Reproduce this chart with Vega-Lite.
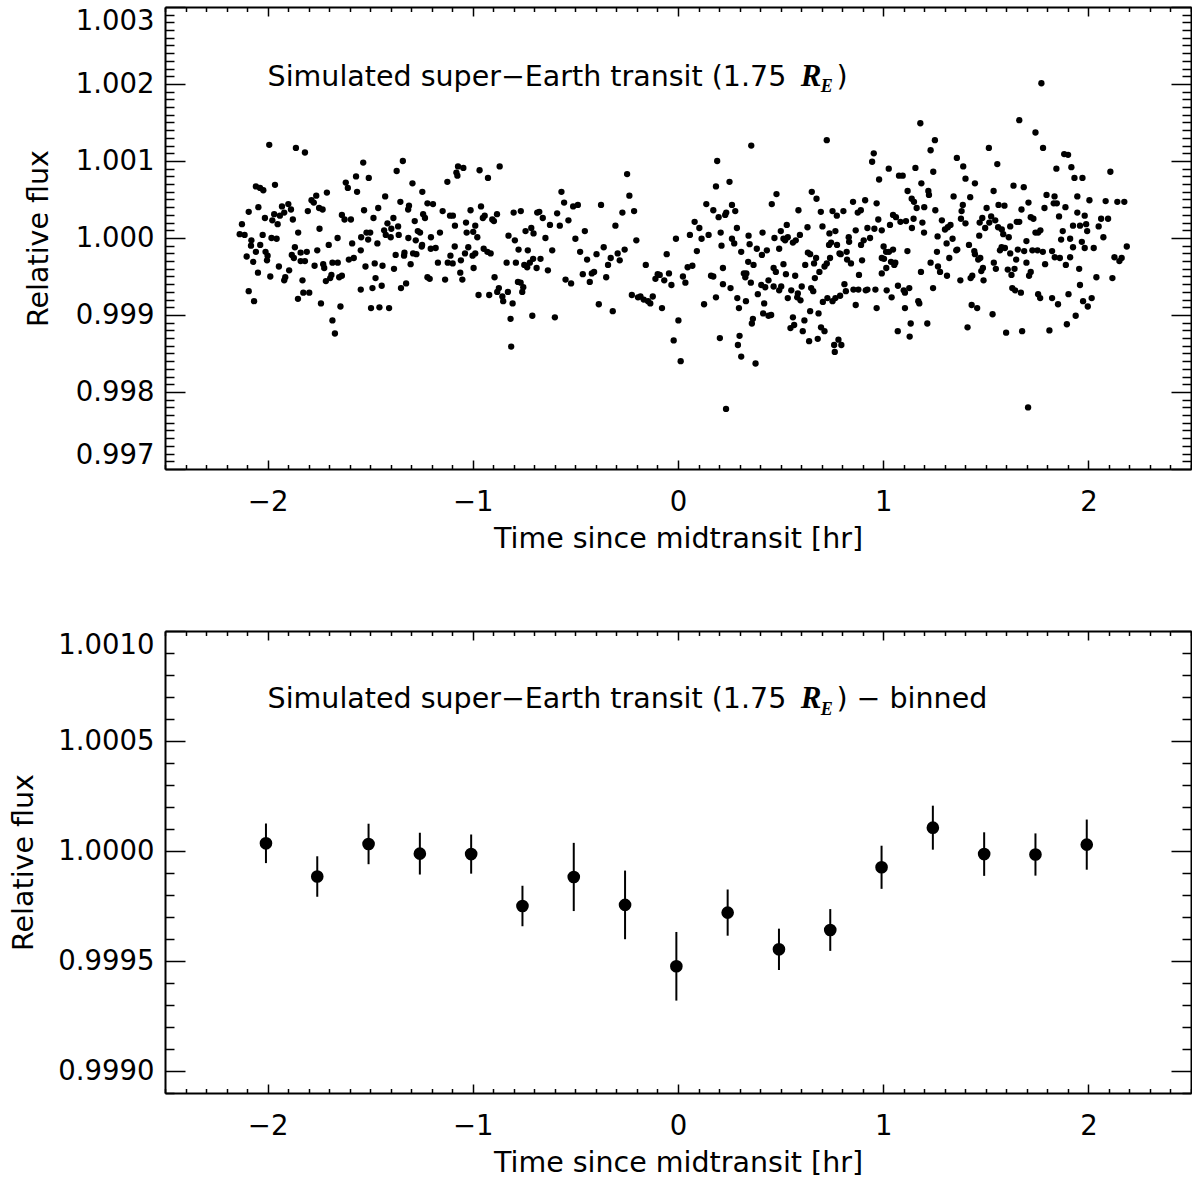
{
  "$schema": "https://vega.github.io/schema/vega-lite/v6.json",
  "padding": {"left": 9, "top": 0, "right": 0, "bottom": 0},
  "background": "white",
  "bounds": "flush",
  "spacing": 162,
  "config": {
    "view": {"stroke": null},
    "font": "DejaVu Sans",
    "axis": {
      "grid": false, "domainColor": "black", "domainWidth": 2, "tickColor": "black", "tickWidth": 1.5,
      "labelFont": "DejaVu Sans", "labelFontSize": 27.5, "labelColor": "black", "labelOverlap": false,
      "titleFont": "DejaVu Sans", "titleFontSize": 28.5, "titleFontWeight": "normal", "titleColor": "black"
    }
  },
  "datasets": {
    "raw": [
{"t":-1.992,"f":1.00121},{"t":-1.862,"f":1.00117},{"t":-1.818,"f":1.00111},{"t":-2.057,"f":1.00067},{"t":-2.037,"f":1.00065},{"t":-2.021,"f":1.00062},{"t":-1.964,"f":1.00069},{"t":-2.092,"f":1.00034},{"t":-2.045,"f":1.0004},{"t":-2.013,"f":1.00026},{"t":-2.125,"f":1.00018},{"t":-2.136,"f":1.00005},{"t":-2.112,"f":1.00004},{"t":-2.079,"f":0.99997},{"t":-2.081,"f":0.9999},{"t":-2.036,"f":0.99991},{"t":-2.057,"f":0.99982},{"t":-2.102,"f":0.99976},{"t":-2.07,"f":0.99969},{"t":-2.047,"f":0.99955},{"t":-2.01,"f":0.99982},{"t":-2.0,"f":0.99977},{"t":-2.003,"f":0.99971},{"t":-2.092,"f":0.99931},{"t":-2.066,"f":0.99918},{"t":-2.024,"f":1.00004},{"t":-1.981,"f":1.0},{"t":-1.956,"f":0.99999},{"t":-1.987,"f":0.9995},{"t":-1.945,"f":0.99963},{"t":-1.914,"f":0.99949},{"t":-1.895,"f":0.99958},{"t":-1.919,"f":0.99945},{"t":-1.977,"f":1.00023},{"t":-1.968,"f":1.00031},{"t":-1.951,"f":1.00018},{"t":-1.94,"f":1.00029},{"t":-1.93,"f":1.00041},{"t":-1.919,"f":1.00033},{"t":-1.899,"f":1.00044},{"t":-1.886,"f":1.00037},{"t":-1.877,"f":1.00024},{"t":-1.851,"f":1.00007},{"t":-1.867,"f":0.99988},{"t":-1.882,"f":0.99978},{"t":-1.872,"f":0.99974},{"t":-1.839,"f":0.99981},{"t":-1.809,"f":0.99982},{"t":-1.839,"f":0.9997},{"t":-1.818,"f":0.9997},{"t":-1.83,"f":0.99945},{"t":-1.826,"f":0.99929},{"t":-1.797,"f":0.99929},{"t":-1.852,"f":0.99921},{"t":-1.74,"f":0.99915},{"t":-1.804,"f":1.00035},{"t":-1.786,"f":1.00049},{"t":-1.775,"f":1.00046},{"t":-1.763,"f":1.00055},{"t":-1.749,"f":1.00039},{"t":-1.732,"f":1.00037},{"t":-1.711,"f":1.00059},{"t":-1.747,"f":1.00012},{"t":-1.702,"f":0.99991},{"t":-1.758,"f":0.99984},{"t":-1.771,"f":0.99964},{"t":-1.729,"f":0.99966},{"t":-1.724,"f":0.99961},{"t":-1.716,"f":0.99944},{"t":-1.695,"f":0.99948},{"t":-1.689,"f":0.99952},{"t":-1.684,"f":0.99968},{"t":-1.658,"f":0.99968},{"t":-1.651,"f":0.99949},{"t":-1.638,"f":0.99951},{"t":-1.684,"f":0.99893},{"t":-1.672,"f":0.99876},{"t":-1.645,"f":0.99911},{"t":-1.659,"f":1.0},{"t":-1.638,"f":1.0003},{"t":-1.625,"f":1.00024},{"t":-1.594,"f":1.00024},{"t":-1.619,"f":1.00072},{"t":-1.609,"f":1.00065},{"t":-1.569,"f":1.0008},{"t":-1.564,"f":1.0006},{"t":-1.588,"f":0.99993},{"t":-1.604,"f":0.99972},{"t":-1.58,"f":0.99974},
{"t":-1.534,"f":1.00098},{"t":-1.341,"f":1.001},{"t":-1.371,"f":1.00087},{"t":-1.507,"f":1.00078},{"t":-1.294,"f":1.00071},{"t":-1.246,"f":1.0006},{"t":-1.124,"f":1.00073},{"t":-1.427,"f":1.00054},{"t":-1.353,"f":1.00047},{"t":-1.53,"f":1.00036},{"t":-1.461,"f":1.00039},{"t":-1.484,"f":1.00026},{"t":-1.311,"f":1.00042},{"t":-1.315,"f":1.00037},{"t":-1.221,"f":1.00045},{"t":-1.194,"f":1.00044},{"t":-1.242,"f":1.00031},{"t":-1.233,"f":1.00026},{"t":-1.283,"f":1.00022},{"t":-1.072,"f":1.00093},{"t":-1.046,"f":1.00091},{"t":-1.08,"f":1.00085},{"t":-1.075,"f":1.00081},{"t":-0.967,"f":1.00088},{"t":-0.926,"f":1.00078},{"t":-0.869,"f":1.00093},{"t":-1.147,"f":1.00035},{"t":-1.111,"f":1.00029},{"t":-1.097,"f":1.00029},{"t":-1.011,"f":1.00036},{"t":-0.96,"f":1.00041},{"t":-0.942,"f":1.00029},{"t":-0.951,"f":1.00026},{"t":-0.882,"f":1.00031},{"t":-0.905,"f":1.00024},{"t":-0.897,"f":1.00022},{"t":-1.416,"f":1.00019},{"t":-1.432,"f":1.0001},{"t":-1.424,"f":1.00004},{"t":-1.397,"f":1.00012},{"t":-1.387,"f":1.00026},{"t":-1.364,"f":1.00015},{"t":-1.4,"f":1.00001},{"t":-1.361,"f":1.00004},{"t":-1.314,"f":1.0},{"t":-1.268,"f":1.00009},{"t":-1.257,"f":1.00007},{"t":-1.278,"f":0.99997},{"t":-1.247,"f":0.99991},{"t":-1.204,"f":1.00001},{"t":-1.16,"f":1.00007},{"t":-1.087,"f":1.00016},{"t":-1.033,"f":1.0002},{"t":-0.988,"f":1.00016},{"t":-0.998,"f":1.00008},{"t":-1.03,"f":1.00007},{"t":-0.978,"f":1.00001},{"t":-1.544,"f":1.00001},{"t":-1.518,"f":1.00007},{"t":-1.5,"f":1.00007},{"t":-1.51,"f":0.99998},{"t":-1.465,"f":0.99993},{"t":-1.546,"f":0.99984},{"t":-1.376,"f":0.99978},{"t":-1.333,"f":0.99981},{"t":-1.335,"f":0.99977},{"t":-1.291,"f":0.9998},{"t":-1.275,"f":0.99979},{"t":-1.303,"f":0.99966},{"t":-1.249,"f":0.99989},{"t":-1.205,"f":0.99986},{"t":-1.181,"f":0.99987},{"t":-1.088,"f":0.99989},{"t":-1.109,"f":0.99977},{"t":-1.122,"f":0.99968},{"t":-1.098,"f":0.99967},{"t":-1.058,"f":0.99971},{"t":-1.038,"f":0.9998},{"t":-1.022,"f":0.99988},{"t":-1.001,"f":0.99977},{"t":-0.988,"f":0.9998},{"t":-0.947,"f":0.99986},{"t":-0.929,"f":0.99982},{"t":-0.913,"f":0.9998},{"t":-1.478,"f":0.99967},{"t":-1.523,"f":0.99963},{"t":-1.44,"f":0.99964},{"t":-1.384,"f":0.9996},{"t":-1.474,"f":0.99948},{"t":-1.489,"f":0.99935},{"t":-1.444,"f":0.99938},{"t":-1.546,"f":0.99933},{"t":-1.35,"f":0.99935},{"t":-1.325,"f":0.99941},{"t":-1.221,"f":0.99949},{"t":-1.21,"f":0.99947},{"t":-1.17,"f":0.99968},{"t":-1.135,"f":0.99946},{"t":-1.061,"f":0.99955},{"t":-1.051,"f":0.99946},{"t":-0.996,"f":0.99961},{"t":-1.496,"f":0.99909},{"t":-1.455,"f":0.9991},{"t":-1.408,"f":0.99909},{"t":-0.972,"f":0.99926},{"t":-0.92,"f":0.99926},{"t":-0.894,"f":0.99949},{"t":-0.881,"f":0.9993},{"t":-0.873,"f":0.99935},{"t":-0.856,"f":0.99924},{"t":-0.852,"f":0.99918},{"t":-0.829,"f":0.9993},{"t":-0.806,"f":0.99915},{"t":-0.816,"f":0.99895},{"t":-0.813,"f":0.99859},{"t":-0.71,"f":0.99899},{"t":-0.6,"f":0.99897},{"t":-0.801,"f":1.00033},{"t":-0.766,"f":1.00035},{"t":-0.826,"f":1.00003},{"t":-0.795,"f":0.99997},{"t":-0.777,"f":0.99985},{"t":-0.835,"f":0.99968},{"t":-0.79,"f":0.99968},{"t":-0.743,"f":1.00009},{"t":-0.715,"f":1.00013},{"t":-0.704,"f":1.00006},{"t":-0.732,"f":0.99984},{"t":-0.749,"f":0.99965},{"t":-0.735,"f":0.99962},{"t":-0.722,"f":0.99968},{"t":-0.706,"f":0.99973},{"t":-0.689,"f":0.99961},{"t":-0.67,"f":0.99973},{"t":-0.646,"f":1.0},{"t":-0.634,"f":0.99958},{"t":-0.613,"f":0.99984},{"t":-0.686,"f":1.00033},{"t":-0.676,"f":1.00034},{"t":-0.659,"f":1.00026},{"t":-0.624,"f":1.00017},{"t":-0.589,"f":1.00032},{"t":-0.78,"f":0.99943},{"t":-0.767,"f":0.99942},{"t":-0.759,"f":0.9993},{"t":-0.754,"f":0.99936},
{"t":-0.568,"f":1.0006},{"t":-0.555,"f":1.00046},{"t":-0.576,"f":1.00016},{"t":-0.534,"f":1.00023},{"t":-0.511,"f":1.00041},{"t":-0.488,"f":1.00043},{"t":-0.5,"f":0.99999},{"t":-0.477,"f":0.99982},{"t":-0.454,"f":1.00009},{"t":-0.443,"f":0.99972},{"t":-0.464,"f":0.99953},{"t":-0.43,"f":0.99943},{"t":-0.42,"f":0.99954},{"t":-0.409,"f":0.99956},{"t":-0.397,"f":0.99979},{"t":-0.386,"f":0.99914},{"t":-0.375,"f":1.00043},{"t":-0.362,"f":0.99988},{"t":-0.35,"f":0.99949},{"t":-0.341,"f":0.99965},{"t":-0.328,"f":0.99974},{"t":-0.318,"f":0.99905},{"t":-0.305,"f":1.00016},{"t":-0.294,"f":0.9998},{"t":-0.284,"f":0.99971},{"t":-0.271,"f":1.00033},{"t":-0.26,"f":0.99985},{"t":-0.248,"f":1.00083},{"t":-0.237,"f":1.00055},{"t":-0.214,"f":1.00035},{"t":-0.203,"f":0.99997},{"t":-0.225,"f":0.99926},{"t":-0.195,"f":0.99923},{"t":-0.183,"f":0.99924},{"t":-0.167,"f":0.9992},{"t":-0.146,"f":0.99918},{"t":-0.135,"f":0.99915},{"t":-0.123,"f":0.99924},{"t":-0.157,"f":0.99965},{"t":-0.11,"f":0.99947},{"t":-0.099,"f":0.99953},{"t":-0.089,"f":0.99952},{"t":-0.078,"f":0.99909},{"t":-0.067,"f":0.99945},{"t":-0.055,"f":0.99979},{"t":-0.044,"f":0.99954},{"t":-0.032,"f":0.99939},{"t":-0.01,"f":0.99999},{"t":0.002,"f":0.99893},{"t":-0.021,"f":0.99867},{"t":0.013,"f":0.9984},{"t":0.024,"f":0.9995},{"t":0.036,"f":0.99942},{"t":0.047,"f":0.99962},{"t":0.058,"f":1.00004},{"t":0.07,"f":0.99964},{"t":0.081,"f":1.00021},{"t":0.092,"f":0.99983},{"t":0.104,"f":1.00013},{"t":0.115,"f":0.99999},{"t":0.127,"f":0.99914},{"t":0.138,"f":1.00044},{"t":0.149,"f":1.00004},{"t":0.161,"f":0.99951},{"t":0.172,"f":0.9995},{"t":0.172,"f":1.00036},{"t":0.185,"f":0.99923},{"t":0.185,"f":1.00067},{"t":0.191,"f":1.001},{"t":0.198,"f":1.00027},{"t":0.208,"f":1.00007},{"t":0.212,"f":0.9999},{"t":0.219,"f":0.99961},{"t":0.219,"f":0.9994},{"t":0.23,"f":1.0003},{"t":0.235,"f":1.00033},{"t":0.251,"f":1.00073},{"t":0.256,"f":0.99935},{"t":0.263,"f":1.00043},{"t":0.263,"f":0.99999},{"t":0.274,"f":0.99993},{"t":0.279,"f":1.00035},{"t":0.287,"f":1.00013},{"t":0.289,"f":0.99922},{"t":0.297,"f":0.99909},{"t":0.308,"f":0.99982},{"t":0.3,"f":0.99873},{"t":0.292,"f":0.99861},{"t":0.308,"f":0.99846},{"t":0.204,"f":0.9987},{"t":0.234,"f":0.99778},{"t":0.357,"f":1.0012},{"t":0.344,"f":1.00003},{"t":0.349,"f":0.99992},{"t":0.342,"f":0.99969},{"t":0.331,"f":0.99918},{"t":0.321,"f":0.99954},{"t":0.328,"f":0.99949},{"t":0.333,"f":0.99954},{"t":0.355,"f":0.99942},{"t":0.368,"f":0.99965},{"t":0.365,"f":0.99895},{"t":0.36,"f":0.99889},{"t":0.378,"f":0.99837},{"t":0.384,"f":0.99986},{"t":0.389,"f":0.99927},{"t":-0.548,"f":0.99946},{"t":-0.521,"f":0.99941},
{"t":0.725,"f":1.00127},{"t":1.181,"f":1.00149},{"t":1.252,"f":1.00127},{"t":1.231,"f":1.00114},{"t":0.954,"f":1.0011},{"t":0.946,"f":1.00099},{"t":1.027,"f":1.0009},{"t":0.98,"f":1.00076},{"t":1.077,"f":1.00081},{"t":1.095,"f":1.00081},{"t":1.157,"f":1.00091},{"t":1.244,"f":1.00086},{"t":1.186,"f":1.00071},{"t":1.359,"f":1.00104},{"t":0.48,"f":1.00057},{"t":0.457,"f":1.00044},{"t":0.652,"f":1.0006},{"t":0.675,"f":1.00051},{"t":0.587,"f":1.00036},{"t":0.696,"f":1.00034},{"t":0.753,"f":1.00035},{"t":0.774,"f":1.00029},{"t":0.806,"f":1.00035},{"t":0.853,"f":1.00047},{"t":0.912,"f":1.00049},{"t":0.891,"f":1.00036},{"t":0.876,"f":1.00033},{"t":0.968,"f":1.00045},{"t":1.119,"f":1.00061},{"t":1.139,"f":1.00051},{"t":1.15,"f":1.00047},{"t":1.163,"f":1.00039},{"t":1.22,"f":1.00061},{"t":1.223,"f":1.00056},{"t":1.2,"f":1.0004},{"t":1.254,"f":1.00036},{"t":1.343,"f":1.00054},{"t":0.412,"f":1.00007},{"t":0.53,"f":1.00017},{"t":0.501,"f":1.00009},{"t":0.47,"f":1.0},{"t":0.493,"f":0.99986},{"t":0.514,"f":0.99999},{"t":0.522,"f":0.99997},{"t":0.535,"f":1.00001},{"t":0.56,"f":0.99994},{"t":0.574,"f":0.99997},{"t":0.594,"f":1.00004},{"t":0.631,"f":1.00014},{"t":0.704,"f":1.00015},{"t":0.738,"f":1.00006},{"t":0.767,"f":1.00009},{"t":0.736,"f":0.99991},{"t":0.775,"f":0.99991},{"t":0.746,"f":0.99994},{"t":0.832,"f":1.00001},{"t":0.834,"f":0.99995},{"t":0.866,"f":1.0001},{"t":0.892,"f":0.99991},{"t":0.905,"f":0.99997},{"t":0.923,"f":1.00013},{"t":0.957,"f":1.00012},{"t":0.936,"f":1.0},{"t":0.993,"f":1.0001},{"t":0.976,"f":1.00024},{"t":1.033,"f":1.00017},{"t":1.048,"f":1.0003},{"t":1.062,"f":1.00027},{"t":1.084,"f":1.00021},{"t":1.111,"f":1.00022},{"t":1.148,"f":1.00025},{"t":1.14,"f":1.00013},{"t":1.191,"f":1.0002},{"t":1.199,"f":1.00007},{"t":1.265,"f":1.00002},{"t":1.286,"f":1.00023},{"t":1.301,"f":1.00011},{"t":1.315,"f":1.00014},{"t":1.328,"f":1.00017},{"t":1.338,"f":0.99999},{"t":1.361,"f":0.99985},{"t":0.409,"f":0.99978},{"t":0.433,"f":0.99984},{"t":0.466,"f":0.99961},{"t":0.477,"f":0.99956},{"t":0.514,"f":0.99966},{"t":0.526,"f":0.99953},{"t":0.571,"f":0.99951},{"t":0.62,"f":0.99965},{"t":0.633,"f":0.99981},{"t":0.644,"f":0.99979},{"t":0.663,"f":0.99967},{"t":0.673,"f":0.99974},{"t":0.667,"f":0.99948},{"t":0.689,"f":0.99956},{"t":0.714,"f":0.99963},{"t":0.725,"f":0.99967},{"t":0.741,"f":0.99974},{"t":0.787,"f":0.9998},{"t":0.793,"f":0.99979},{"t":0.822,"f":0.99982},{"t":0.824,"f":0.99972},{"t":0.843,"f":0.99967},{"t":0.897,"f":0.99971},{"t":0.882,"f":0.99952},{"t":1.002,"f":0.99989},{"t":0.993,"f":0.99974},{"t":1.014,"f":0.99982},{"t":1.048,"f":0.99985},{"t":1.028,"f":0.99982},{"t":1.004,"f":0.99973},{"t":1.038,"f":0.99969},{"t":1.054,"f":0.99965},{"t":1.059,"f":0.99968},{"t":1.015,"f":0.99961},{"t":0.993,"f":0.99954},{"t":1.118,"f":0.99983},{"t":1.184,"f":0.99956},{"t":1.231,"f":0.99968},{"t":1.262,"f":0.99982},{"t":1.267,"f":0.99963},{"t":1.277,"f":0.99956},{"t":1.311,"f":0.99951},{"t":1.322,"f":0.99974},{"t":1.309,"f":0.99993},{"t":1.356,"f":0.99984},{"t":0.406,"f":0.99939},{"t":0.425,"f":0.99936},{"t":0.441,"f":0.99945},{"t":0.466,"f":0.99937},{"t":0.503,"f":0.99937},{"t":0.493,"f":0.99932},{"t":0.552,"f":0.99932},{"t":0.535,"f":0.99922},{"t":0.584,"f":0.99928},{"t":0.597,"f":0.99919},{"t":0.603,"f":0.99937},{"t":0.649,"f":0.99935},{"t":0.659,"f":0.99931},{"t":0.581,"f":0.99923},{"t":0.42,"f":0.99915},{"t":0.441,"f":0.99899},{"t":0.454,"f":0.999},{"t":0.415,"f":0.99902},{"t":0.56,"f":0.99897},{"t":0.616,"f":0.99893},{"t":0.548,"f":0.99883},{"t":0.566,"f":0.99887},{"t":0.608,"f":0.99879},{"t":0.644,"f":0.99905},{"t":0.685,"f":0.99902},{"t":0.706,"f":0.99917},{"t":0.697,"f":0.99884},{"t":0.714,"f":0.99879},{"t":0.639,"f":0.99866},{"t":0.681,"f":0.99869},{"t":0.728,"f":0.99922},{"t":0.753,"f":0.99918},{"t":0.767,"f":0.99922},{"t":0.79,"f":0.99925},{"t":0.811,"f":0.9994},{"t":0.818,"f":0.99931},{"t":0.855,"f":0.99933},{"t":0.879,"f":0.99933},{"t":0.915,"f":0.99932},{"t":0.923,"f":0.99933},{"t":0.962,"f":0.99933},{"t":1.017,"f":0.99932},{"t":1.041,"f":0.99923},{"t":1.072,"f":0.99938},{"t":1.1,"f":0.99932},{"t":1.106,"f":0.99929},{"t":1.127,"f":0.99935},{"t":0.866,"f":0.99913},{"t":0.968,"f":0.99909},{"t":1.106,"f":0.99909},{"t":1.171,"f":0.99918},{"t":1.176,"f":0.99915},{"t":1.243,"f":0.99935},{"t":0.761,"f":0.99861},{"t":0.782,"f":0.99868},{"t":0.796,"f":0.99861},{"t":0.764,"f":0.99852},{"t":1.071,"f":0.99879},{"t":1.134,"f":0.99889},{"t":1.129,"f":0.99872},{"t":1.215,"f":0.99889},
{"t":1.771,"f":1.00201},{"t":1.663,"f":1.00153},{"t":1.742,"f":1.00137},{"t":1.515,"f":1.00117},{"t":1.779,"f":1.00117},{"t":1.556,"f":1.00096},{"t":1.39,"f":1.00093},{"t":1.882,"f":1.00109},{"t":1.901,"f":1.00108},{"t":1.844,"f":1.0009},{"t":1.917,"f":1.00092},{"t":2.107,"f":1.00086},{"t":1.932,"f":1.00078},{"t":1.971,"f":1.00078},{"t":1.401,"f":1.00077},{"t":1.447,"f":1.00071},{"t":1.635,"f":1.00068},{"t":1.685,"f":1.00066},{"t":1.538,"f":1.00061},{"t":1.424,"f":1.00053},{"t":1.796,"f":1.00056},{"t":1.835,"f":1.00054},{"t":1.946,"f":1.00054},{"t":2.005,"f":1.00049},{"t":2.084,"f":1.00048},{"t":2.141,"f":1.00047},{"t":2.175,"f":1.00047},{"t":1.388,"f":1.00043},{"t":1.382,"f":1.00035},{"t":1.504,"f":1.00039},{"t":1.562,"f":1.00043},{"t":1.591,"f":1.00042},{"t":1.674,"f":1.00037},{"t":1.708,"f":1.00046},{"t":1.786,"f":1.00039},{"t":1.831,"f":1.00045},{"t":1.846,"f":1.00045},{"t":1.888,"f":1.0004},{"t":1.946,"f":1.00033},{"t":1.982,"f":1.00029},{"t":1.857,"f":1.00028},{"t":2.062,"f":1.00025},{"t":2.096,"f":1.00025},{"t":1.379,"f":1.00025},{"t":1.401,"f":1.00019},{"t":1.483,"f":1.00026},{"t":1.47,"f":1.0002},{"t":1.526,"f":1.00028},{"t":1.546,"f":1.00023},{"t":1.517,"f":1.0002},{"t":1.497,"f":1.00013},{"t":1.56,"f":1.00014},{"t":1.578,"f":1.00011},{"t":1.585,"f":1.00005},{"t":1.619,"f":1.00015},{"t":1.612,"f":1.00001},{"t":1.468,"f":1.00003},{"t":1.651,"f":1.00021},{"t":1.663,"f":1.00021},{"t":1.719,"f":1.00027},{"t":1.732,"f":1.00025},{"t":1.742,"f":1.00007},{"t":1.755,"f":1.00007},{"t":1.766,"f":1.0001},{"t":1.698,"f":0.99996},{"t":1.875,"f":1.00009},{"t":1.867,"f":0.99998},{"t":1.911,"f":0.99999},{"t":1.925,"f":1.00016},{"t":1.959,"f":1.00016},{"t":1.989,"f":1.00018},{"t":1.994,"f":1.00009},{"t":2.05,"f":1.00015},{"t":2.073,"f":1.00001},{"t":1.968,"f":0.99995},{"t":1.925,"f":0.99988},{"t":1.982,"f":0.99987},{"t":2.026,"f":0.99987},{"t":2.187,"f":0.99989},{"t":2.127,"f":0.99975},{"t":2.151,"f":0.9997},{"t":2.162,"f":0.99974},{"t":2.117,"f":0.99948},{"t":2.039,"f":0.99949},{"t":1.955,"f":0.9996},{"t":1.959,"f":0.99939},{"t":1.911,"f":0.99975},{"t":1.89,"f":0.99965},{"t":1.836,"f":0.99975},{"t":1.861,"f":0.99974},{"t":1.823,"f":0.99983},{"t":1.789,"f":0.99966},{"t":1.778,"f":0.99982},{"t":1.752,"f":0.99984},{"t":1.727,"f":0.99984},{"t":1.687,"f":0.99983},{"t":1.698,"f":0.99968},{"t":1.656,"f":0.99985},{"t":1.619,"f":0.9998},{"t":1.569,"f":0.99984},{"t":1.577,"f":0.99988},{"t":1.593,"f":0.99987},{"t":1.648,"f":0.99972},{"t":1.607,"f":0.99959},{"t":1.64,"f":0.9996},{"t":1.625,"f":0.99952},{"t":1.539,"f":0.99968},{"t":1.549,"f":0.9996},{"t":1.486,"f":0.99961},{"t":1.478,"f":0.99957},{"t":1.463,"f":0.99972},{"t":1.473,"f":0.99974},{"t":1.444,"f":0.99983},{"t":1.418,"f":0.99991},{"t":1.447,"f":0.99979},{"t":1.434,"f":0.99951},{"t":1.426,"f":0.99948},{"t":1.376,"f":0.99945},{"t":1.489,"f":0.99945},{"t":1.719,"f":0.99956},{"t":1.711,"f":0.99951},{"t":1.629,"f":0.99935},{"t":1.643,"f":0.99932},{"t":1.671,"f":0.99929},{"t":1.755,"f":0.99927},{"t":1.765,"f":0.99922},{"t":1.823,"f":0.99922},{"t":1.852,"f":0.99914},{"t":1.903,"f":0.99927},{"t":1.974,"f":0.99918},{"t":1.997,"f":0.99911},{"t":2.016,"f":0.99922},{"t":1.938,"f":0.99899},{"t":1.895,"f":0.99888},{"t":1.81,"f":0.9988},{"t":1.677,"f":0.99879},{"t":1.599,"f":0.99877},{"t":1.533,"f":0.99901},{"t":1.431,"f":0.99913},{"t":1.458,"f":0.99909},{"t":1.411,"f":0.99884},{"t":1.706,"f":0.9978}
    ],
    "binned": [
      {"t":-2.008,"f":1.000035,"err":0.00009},{"t":-1.758,"f":0.999884,"err":0.000092},{"t":-1.508,"f":1.000032,"err":0.000092},{"t":-1.258,"f":0.999988,"err":0.000095},{"t":-1.008,"f":0.999986,"err":0.000089},{"t":-0.758,"f":0.99975,"err":0.000092},{"t":-0.508,"f":0.999882,"err":0.000155},{"t":-0.258,"f":0.999755,"err":0.000156},{"t":-0.008,"f":0.999476,"err":0.000156},{"t":0.242,"f":0.99972,"err":0.000105},{"t":0.492,"f":0.999553,"err":0.000094},{"t":0.742,"f":0.999641,"err":0.000095},{"t":0.992,"f":0.999926,"err":0.000098},{"t":1.242,"f":1.000106,"err":0.0001},{"t":1.492,"f":0.999986,"err":0.000099},{"t":1.742,"f":0.999984,"err":0.000096},{"t":1.992,"f":1.000029,"err":0.000114}
    ]
  },
  "vconcat": [
    {
      "width": 1026, "height": 462,
      "layer": [
        {
          "data": {"name": "raw"},
          "mark": {"type": "circle", "size": 40, "color": "black", "opacity": 1},
          "encoding": {
            "x": {"field": "t", "type": "quantitative", "scale": {"domain": [-2.5, 2.5], "nice": false, "zero": false},
              "axis": {"orient": "bottom", "title": "Time since midtransit [hr]", "labelFlush": false, "labelPadding": 28, "titlePadding": 4,
                "values": [-2.5,-2.4,-2.3,-2.2,-2.1,-2,-1.9,-1.8,-1.7,-1.6,-1.5,-1.4,-1.3,-1.2,-1.1,-1,-0.9,-0.8,-0.7,-0.6,-0.5,-0.4,-0.3,-0.2,-0.1,0,0.1,0.2,0.3,0.4,0.5,0.6,0.7,0.8,0.9,1,1.1,1.2,1.3,1.4,1.5,1.6,1.7,1.8,1.9,2,2.1,2.2,2.3,2.4,2.5],
                "labelExpr": "abs(datum.value-round(datum.value))<0.001 ? format(datum.value,'d') : ''",
                "tickSize": {"condition": {"test": "abs(datum.value-round(datum.value))<0.001", "value": -9}, "value": -4.5}}},
            "y": {"field": "f", "type": "quantitative", "scale": {"domain": [0.997, 1.003], "nice": false, "zero": false},
              "axis": {"orient": "left", "title": "Relative flux", "labelFlush": true, "labelPadding": 31, "titleX": -112,
                "values": [0.997,0.9971,0.9972,0.9973,0.9974,0.9975,0.9976,0.9977,0.9978,0.9979,0.998,0.9981,0.9982,0.9983,0.9984,0.9985,0.9986,0.9987,0.9988,0.9989,0.999,0.9991,0.9992,0.9993,0.9994,0.9995,0.9996,0.9997,0.9998,0.9999,1,1.0001,1.0002,1.0003,1.0004,1.0005,1.0006,1.0007,1.0008,1.0009,1.001,1.0011,1.0012,1.0013,1.0014,1.0015,1.0016,1.0017,1.0018,1.0019,1.002,1.0021,1.0022,1.0023,1.0024,1.0025,1.0026,1.0027,1.0028,1.0029,1.003],
                "labelExpr": "abs(datum.value*1000-round(datum.value*1000))<0.01 ? format(datum.value,'.3f') : ''",
                "tickSize": {"condition": {"test": "abs(datum.value*1000-round(datum.value*1000))<0.01", "value": -20}, "value": -9}}}
          }
        },
        {
          "data": {"values": [{}]},
          "mark": {"type": "text", "align": "left", "baseline": "alphabetic", "font": "DejaVu Sans", "fontSize": 28.5, "color": "black", "text": "Simulated super−Earth transit (1.75"},
          "encoding": {
            "x": {"datum": -2.0, "type": "quantitative", "scale": {"domain": [-2.5, 2.5], "nice": false, "zero": false},
              "axis": {"orient": "top", "labels": false, "title": null,
                "values": [-2.5,-2.4,-2.3,-2.2,-2.1,-2,-1.9,-1.8,-1.7,-1.6,-1.5,-1.4,-1.3,-1.2,-1.1,-1,-0.9,-0.8,-0.7,-0.6,-0.5,-0.4,-0.3,-0.2,-0.1,0,0.1,0.2,0.3,0.4,0.5,0.6,0.7,0.8,0.9,1,1.1,1.2,1.3,1.4,1.5,1.6,1.7,1.8,1.9,2,2.1,2.2,2.3,2.4,2.5],
                "tickSize": {"condition": {"test": "abs(datum.value-round(datum.value))<0.001", "value": -9}, "value": -4.5}}},
            "y": {"datum": 1.00198, "type": "quantitative", "scale": {"domain": [0.997, 1.003], "nice": false, "zero": false},
              "axis": {"orient": "right", "labels": false, "title": null,
                "values": [0.997,0.9971,0.9972,0.9973,0.9974,0.9975,0.9976,0.9977,0.9978,0.9979,0.998,0.9981,0.9982,0.9983,0.9984,0.9985,0.9986,0.9987,0.9988,0.9989,0.999,0.9991,0.9992,0.9993,0.9994,0.9995,0.9996,0.9997,0.9998,0.9999,1,1.0001,1.0002,1.0003,1.0004,1.0005,1.0006,1.0007,1.0008,1.0009,1.001,1.0011,1.0012,1.0013,1.0014,1.0015,1.0016,1.0017,1.0018,1.0019,1.002,1.0021,1.0022,1.0023,1.0024,1.0025,1.0026,1.0027,1.0028,1.0029,1.003],
                "tickSize": {"condition": {"test": "abs(datum.value*1000-round(datum.value*1000))<0.01", "value": -20}, "value": -9}}}
          }
        },
        {
          "data": {"values": [{}]},
          "mark": {"type": "text", "align": "left", "baseline": "alphabetic", "font": "Liberation Serif", "fontStyle": "italic", "fontWeight": "bold", "fontSize": 31, "color": "black", "text": "R"},
          "encoding": {
            "x": {"datum": 0.598, "type": "quantitative", "axis": null, "scale": {"domain": [-2.5, 2.5], "nice": false, "zero": false}},
            "y": {"datum": 1.00198, "type": "quantitative", "axis": null, "scale": {"domain": [0.997, 1.003], "nice": false, "zero": false}}
          }
        },
        {
          "data": {"values": [{}]},
          "mark": {"type": "text", "align": "left", "baseline": "alphabetic", "font": "Liberation Serif", "fontStyle": "italic", "fontWeight": "bold", "fontSize": 18, "dy": 6.5, "color": "black", "text": "E"},
          "encoding": {
            "x": {"datum": 0.696, "type": "quantitative", "axis": null, "scale": {"domain": [-2.5, 2.5], "nice": false, "zero": false}},
            "y": {"datum": 1.00198, "type": "quantitative", "axis": null, "scale": {"domain": [0.997, 1.003], "nice": false, "zero": false}}
          }
        },
        {
          "data": {"values": [{}]},
          "mark": {"type": "text", "align": "left", "baseline": "alphabetic", "font": "DejaVu Sans", "fontSize": 28.5, "color": "black", "text": ")"},
          "encoding": {
            "x": {"datum": 0.772, "type": "quantitative", "axis": null, "scale": {"domain": [-2.5, 2.5], "nice": false, "zero": false}},
            "y": {"datum": 1.00198, "type": "quantitative", "axis": null, "scale": {"domain": [0.997, 1.003], "nice": false, "zero": false}}
          }
        }
      ],
      "resolve": {"axis": {"x": "independent", "y": "independent"}}
    },
    {
      "width": 1026, "height": 462,
      "layer": [
        {
          "data": {"name": "binned"},
          "mark": {"type": "circle", "size": 160, "color": "black", "opacity": 1},
          "encoding": {
            "x": {"field": "t", "type": "quantitative", "scale": {"domain": [-2.5, 2.5], "nice": false, "zero": false},
              "axis": {"orient": "bottom", "title": "Time since midtransit [hr]", "labelFlush": false, "labelPadding": 28, "titlePadding": 4,
                "values": [-2.5,-2.4,-2.3,-2.2,-2.1,-2,-1.9,-1.8,-1.7,-1.6,-1.5,-1.4,-1.3,-1.2,-1.1,-1,-0.9,-0.8,-0.7,-0.6,-0.5,-0.4,-0.3,-0.2,-0.1,0,0.1,0.2,0.3,0.4,0.5,0.6,0.7,0.8,0.9,1,1.1,1.2,1.3,1.4,1.5,1.6,1.7,1.8,1.9,2,2.1,2.2,2.3,2.4,2.5],
                "labelExpr": "abs(datum.value-round(datum.value))<0.001 ? format(datum.value,'d') : ''",
                "tickSize": {"condition": {"test": "abs(datum.value-round(datum.value))<0.001", "value": -9}, "value": -4.5}}},
            "y": {"field": "f", "type": "quantitative", "scale": {"domain": [0.9989, 1.001], "nice": false, "zero": false},
              "axis": {"orient": "left", "title": "Relative flux", "labelFlush": true, "labelPadding": 31, "titleX": -126.5,
                "values": [0.9989,0.999,0.9991,0.9992,0.9993,0.9994,0.9995,0.9996,0.9997,0.9998,0.9999,1,1.0001,1.0002,1.0003,1.0004,1.0005,1.0006,1.0007,1.0008,1.0009,1.001],
                "labelExpr": "abs(datum.value*2000-round(datum.value*2000))<0.01 ? format(datum.value,'.4f') : ''",
                "tickSize": {"condition": {"test": "abs(datum.value*2000-round(datum.value*2000))<0.01", "value": -20}, "value": -9}}}
          }
        },
        {
          "data": {"name": "binned"},
          "mark": {"type": "errorbar", "color": "black", "rule": {"strokeWidth": 2}},
          "encoding": {
            "x": {"field": "t", "type": "quantitative", "axis": null, "scale": {"domain": [-2.5, 2.5], "nice": false, "zero": false}},
            "y": {"field": "f", "type": "quantitative", "axis": null, "scale": {"domain": [0.9989, 1.001], "nice": false, "zero": false}},
            "yError": {"field": "err"}
          }
        },
        {
          "data": {"values": [{}]},
          "mark": {"type": "text", "align": "left", "baseline": "alphabetic", "font": "DejaVu Sans", "fontSize": 28.5, "color": "black", "text": "Simulated super−Earth transit (1.75"},
          "encoding": {
            "x": {"datum": -2.0, "type": "quantitative", "scale": {"domain": [-2.5, 2.5], "nice": false, "zero": false},
              "axis": {"orient": "top", "labels": false, "title": null,
                "values": [-2.5,-2.4,-2.3,-2.2,-2.1,-2,-1.9,-1.8,-1.7,-1.6,-1.5,-1.4,-1.3,-1.2,-1.1,-1,-0.9,-0.8,-0.7,-0.6,-0.5,-0.4,-0.3,-0.2,-0.1,0,0.1,0.2,0.3,0.4,0.5,0.6,0.7,0.8,0.9,1,1.1,1.2,1.3,1.4,1.5,1.6,1.7,1.8,1.9,2,2.1,2.2,2.3,2.4,2.5],
                "tickSize": {"condition": {"test": "abs(datum.value-round(datum.value))<0.001", "value": -9}, "value": -4.5}}},
            "y": {"datum": 1.00065, "type": "quantitative", "scale": {"domain": [0.9989, 1.001], "nice": false, "zero": false},
              "axis": {"orient": "right", "labels": false, "title": null,
                "values": [0.9989,0.999,0.9991,0.9992,0.9993,0.9994,0.9995,0.9996,0.9997,0.9998,0.9999,1,1.0001,1.0002,1.0003,1.0004,1.0005,1.0006,1.0007,1.0008,1.0009,1.001],
                "tickSize": {"condition": {"test": "abs(datum.value*2000-round(datum.value*2000))<0.01", "value": -20}, "value": -9}}}
          }
        },
        {
          "data": {"values": [{}]},
          "mark": {"type": "text", "align": "left", "baseline": "alphabetic", "font": "Liberation Serif", "fontStyle": "italic", "fontWeight": "bold", "fontSize": 31, "color": "black", "text": "R"},
          "encoding": {
            "x": {"datum": 0.598, "type": "quantitative", "axis": null, "scale": {"domain": [-2.5, 2.5], "nice": false, "zero": false}},
            "y": {"datum": 1.00065, "type": "quantitative", "axis": null, "scale": {"domain": [0.9989, 1.001], "nice": false, "zero": false}}
          }
        },
        {
          "data": {"values": [{}]},
          "mark": {"type": "text", "align": "left", "baseline": "alphabetic", "font": "Liberation Serif", "fontStyle": "italic", "fontWeight": "bold", "fontSize": 18, "dy": 6.5, "color": "black", "text": "E"},
          "encoding": {
            "x": {"datum": 0.696, "type": "quantitative", "axis": null, "scale": {"domain": [-2.5, 2.5], "nice": false, "zero": false}},
            "y": {"datum": 1.00065, "type": "quantitative", "axis": null, "scale": {"domain": [0.9989, 1.001], "nice": false, "zero": false}}
          }
        },
        {
          "data": {"values": [{}]},
          "mark": {"type": "text", "align": "left", "baseline": "alphabetic", "font": "DejaVu Sans", "fontSize": 28.5, "color": "black", "text": ") − binned"},
          "encoding": {
            "x": {"datum": 0.772, "type": "quantitative", "axis": null, "scale": {"domain": [-2.5, 2.5], "nice": false, "zero": false}},
            "y": {"datum": 1.00065, "type": "quantitative", "axis": null, "scale": {"domain": [0.9989, 1.001], "nice": false, "zero": false}}
          }
        }
      ],
      "resolve": {"axis": {"x": "independent", "y": "independent"}}
    }
  ]
}
